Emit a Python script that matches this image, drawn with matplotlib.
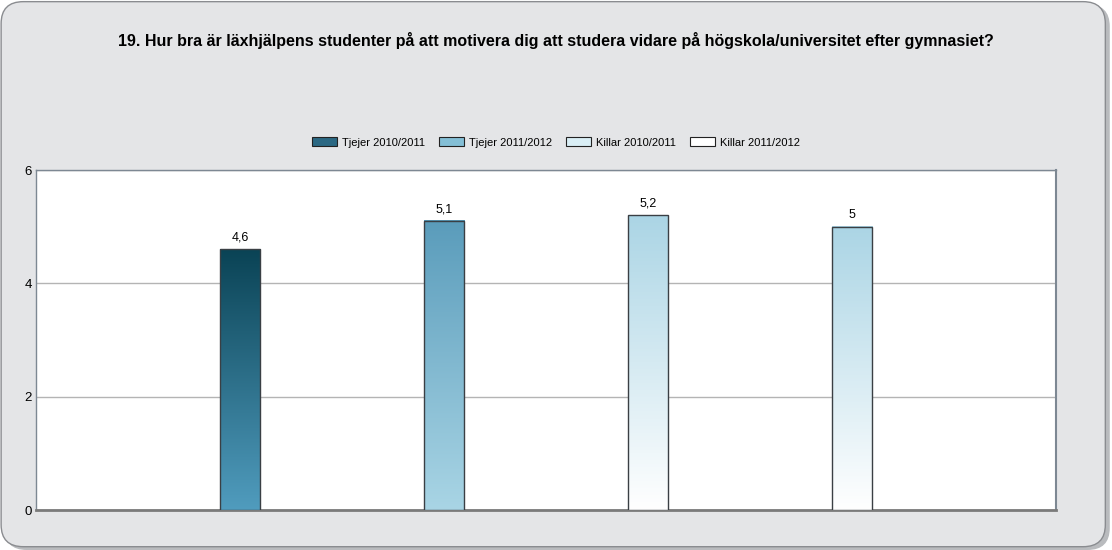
import matplotlib

matplotlib.use("Agg")
import matplotlib.pyplot as plt
import numpy as np
from matplotlib.colors import LinearSegmentedColormap
from matplotlib.patches import FancyBboxPatch, Patch

title = "19. Hur bra är läxhjälpens studenter på att motivera dig att studera vidare på högskola/universitet efter gymnasiet?"
series = ["Tjejer 2010/2011", "Tjejer 2011/2012", "Killar 2010/2011", "Killar 2011/2012"]
values = [4.6, 5.1, 5.2, 5.0]
labels = ["4,6", "5,1", "5,2", "5"]
# gradient colours, top -> bottom
grad_top = ["#0a4355", "#5a9cbb", "#abd5e5", "#abd5e5"]
grad_bottom = ["#509cbe", "#a9d5e5", "#ffffff", "#ffffff"]
legend_colors = ["#2b6883", "#84bfd6", "#d9eef5", "#ffffff"]
y_ticks = [0, 2, 4, 6]

plt.rcParams["font.family"] = ["Liberation Sans", "DejaVu Sans"]

fig = plt.figure(figsize=(11.12, 5.5), dpi=100)
fig.patch.set_facecolor("white")

# rounded grey frame with a soft shadow, kept behind the axes
shadow = FancyBboxPatch((0.004, 0.0), 0.994, 0.992, boxstyle="round,pad=0,rounding_size=0.02",
                        transform=fig.transFigure, facecolor="#b9bbbe", edgecolor="none",
                        mutation_aspect=2.0, zorder=-3)
frame = FancyBboxPatch((0.001, 0.006), 0.993, 0.991, boxstyle="round,pad=0,rounding_size=0.02",
                       transform=fig.transFigure, facecolor="#e4e5e7", edgecolor="#8a8c90",
                       linewidth=1.0, mutation_aspect=2.0, zorder=-2)
fig.patches.extend([shadow, frame])

ax = fig.add_axes([0.0324, 0.0727, 0.9173, 0.6182])
ax.set_facecolor("white")

x = np.arange(1, len(values) + 1)
width = 0.2
for i, (xi, v) in enumerate(zip(x, values)):
    cmap = LinearSegmentedColormap.from_list(f"g{i}", [grad_bottom[i], grad_top[i]])
    grad = np.linspace(1, 0, 256).reshape(-1, 1)
    ax.imshow(grad, cmap=cmap, extent=[xi - width / 2, xi + width / 2, 0, v],
              aspect="auto", zorder=3, vmin=0, vmax=1)
    ax.bar(xi, v, width=width, facecolor="none", edgecolor="#3a3f44", linewidth=1.0, zorder=4)
    ax.text(xi, v + 0.1, labels[i], ha="center", va="bottom", fontsize=9, color="black", zorder=5)

ax.set_xlim(0, 5)
ax.set_ylim(0, 6)
ax.set_yticks(y_ticks)
ax.set_yticklabels([str(t) for t in y_ticks], fontsize=9.5)
ax.tick_params(axis="y", length=0, pad=3)
ax.set_xticks(x)
ax.set_xticklabels([])
ax.tick_params(axis="x", direction="in", length=3, color="white")
ax.grid(axis="y", color="#b4b4b4", linewidth=1.0, zorder=1)
ax.set_axisbelow(True)

for side in ["left", "top", "right"]:
    ax.spines[side].set_color("#7d8893")
    ax.spines[side].set_linewidth(1.0)
ax.spines["bottom"].set_color("#7a7a7a")
ax.spines["bottom"].set_linewidth(2.0)
ax.spines["right"].set_linewidth(1.5)

fig.text(0.5, 0.927, title, ha="center", va="center", fontsize=11.5, fontweight="bold", color="black")

handles = [Patch(facecolor=c, edgecolor="#222222", linewidth=0.8) for c in legend_colors]
fig.legend(handles, series, loc="center", bbox_to_anchor=(0.5, 0.741), ncol=4, frameon=False,
           fontsize=8, handlelength=2.2, handleheight=0.9, handletextpad=0.45, columnspacing=1.3)

plt.savefig("out.png", dpi=100, facecolor=fig.get_facecolor())
